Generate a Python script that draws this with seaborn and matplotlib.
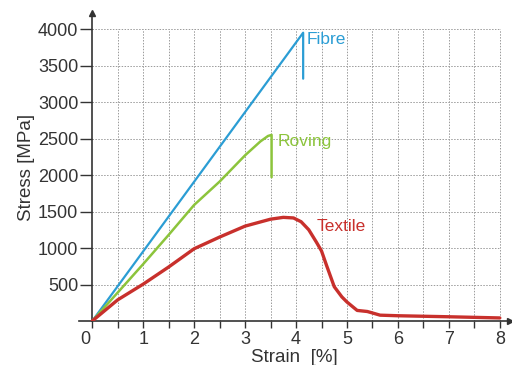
import matplotlib
matplotlib.use("Agg")
import matplotlib.pyplot as plt
import matplotlib.transforms as mtransforms
import seaborn as sns
import numpy as np
import pandas as pd

# ---- data ----
fibre_strain = [0.0, 4.14, 4.14]
fibre_stress = [0, 3950, 3320]

roving_strain = [0.0, 1.0, 1.5, 2.0, 2.5, 3.0, 3.3, 3.45, 3.52, 3.52]
roving_stress = [0, 780, 1180, 1590, 1910, 2270, 2460, 2535, 2550, 1970]

textile_strain = [0.0, 0.5, 1.0, 1.5, 2.0, 2.5, 3.0, 3.5, 3.75, 3.95, 4.1, 4.25, 4.4,
                  4.5, 4.6, 4.75, 4.9, 5.0, 5.2, 5.4, 5.65, 6.0, 7.0, 8.0]
textile_stress = [0, 290, 505, 740, 990, 1150, 1300, 1395, 1420, 1412, 1360, 1250, 1080,
                  960, 760, 470, 330, 260, 145, 130, 80, 72, 58, 42]

x_ticks = [0, 1, 2, 3, 4, 5, 6, 7, 8]
y_ticks = [500, 1000, 1500, 2000, 2500, 3000, 3500, 4000]

labels = ["Fibre", "Roving", "Textile"]
colors = ["#2b9dd4", "#8cc43c", "#c8302c"]

sns.set_theme(style="white")
plt.rcParams["font.family"] = ["Liberation Sans", "DejaVu Sans"]

fig = plt.figure(figsize=(5.12, 3.65), dpi=100)
ax = fig.add_axes([79 / 512, 44 / 365, (510 - 79) / 512, (321 - 13) / 365])

xmin, xmax = -0.26, 8.2
ymin, ymax = 0, 4220
ax.set_xlim(xmin, xmax)
ax.set_ylim(ymin, ymax)

# grid (dotted) limited to the 0..8 / 0..4000 box
for gx in np.arange(0.5, 8.01, 0.5):
    ax.plot([gx, gx], [0, 4000], color="#9a9a9a", lw=0.7, ls=(0, (1.5, 1.5)), zorder=0.5)
for gy in y_ticks:
    ax.plot([0, 8], [gy, gy], color="#9a9a9a", lw=0.7, ls=(0, (1.5, 1.5)), zorder=0.5)

df_f = pd.DataFrame({"strain": fibre_strain, "stress": fibre_stress})
df_r = pd.DataFrame({"strain": roving_strain, "stress": roving_stress})
df_t = pd.DataFrame({"strain": textile_strain, "stress": textile_stress})

kw = dict(x="strain", y="stress", sort=False, estimator=None, ax=ax, zorder=3)
sns.lineplot(data=df_f, color=colors[0], lw=1.6, **kw)
sns.lineplot(data=df_r, color=colors[1], lw=1.8, **kw)
sns.lineplot(data=df_t, color=colors[2], lw=2.4, **kw)

# curve labels
ax.text(4.2, 3860, labels[0], color=colors[0], fontsize=12.5, ha="left", va="center")
ax.text(3.64, 2460, labels[1], color=colors[1], fontsize=12.5, ha="left", va="center")
ax.text(4.4, 1300, labels[2], color=colors[2], fontsize=12.5, ha="left", va="center")

# spines / axes
for s in ["top", "right"]:
    ax.spines[s].set_visible(False)
ax.spines["left"].set_position(("data", 0))
ax.spines["bottom"].set_position(("data", 0))
for s in ["left", "bottom"]:
    ax.spines[s].set_color("#333333")
    ax.spines[s].set_linewidth(1.2)

ax.set_xticks(x_ticks)
ax.set_xticks(np.arange(0.5, 8, 1.0), minor=True)
ax.set_yticks(y_ticks)
ax.set_xticklabels([str(v) for v in x_ticks])
ax.set_yticklabels([str(v) for v in y_ticks])
ax.tick_params(axis="x", which="both", direction="out", length=5, width=1, color="#333333",
               labelsize=13, labelcolor="#333333", pad=2, bottom=True)
ax.tick_params(axis="y", direction="out", length=9, width=1, color="#333333",
               labelsize=13, labelcolor="#333333", pad=1, left=True)

# shift the "0" label slightly left
lbl0 = ax.get_xticklabels()[0]
lbl0.set_transform(lbl0.get_transform() + mtransforms.ScaledTranslation(-7 / 100, 0, fig.dpi_scale_trans))

# arrows at axis ends
ax.plot(1, 0, marker=">", color="#333333", ms=5, transform=ax.get_yaxis_transform(), clip_on=False)
ax.plot(0, 1, marker="^", color="#333333", ms=5, transform=ax.get_xaxis_transform(), clip_on=False)

ax.set_xlabel("Strain  [%]", fontsize=13.5, color="#333333", labelpad=1)
ax.set_ylabel("Stress [MPa]", fontsize=13.5, color="#333333", labelpad=2)

fig.savefig("out.png", dpi=100)
